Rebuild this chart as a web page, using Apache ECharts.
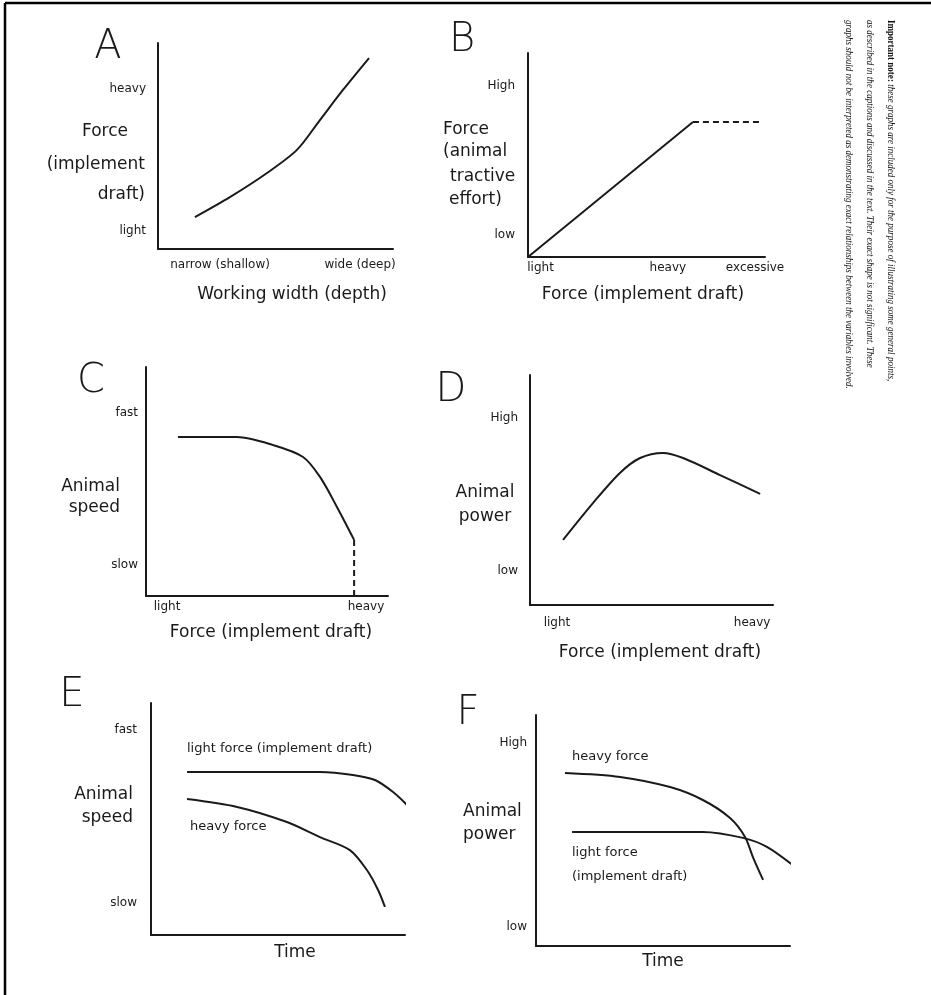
<!DOCTYPE html>
<html>
<head>
<meta charset="utf-8">
<script src="https://cdn.jsdelivr.net/npm/echarts@6/dist/echarts.min.js"></script>
<style>
    html, body { margin: 0; padding: 0; background: #fff; }
    #main { width: 931px; height: 995px; }
</style>
</head>
<body>
<div id="main"></div>
<script>
// values, every axis runs 0..100
var aCurve = [[15.7, 15.5], [30.6, 25.2], [46.4, 36.9], [59.1, 48.1], [68.9, 62.6], [78.7, 77.2], [89.8, 92.7]]
var aYTicks = [8.7, 77.7]
var aYLabels = ['light', 'heavy']
var aXTicks = [26.4, 86]
var aXLabels = ['narrow (shallow)', 'wide (deep)']

var bSolid = [[0, 0], [69.6, 66.2]]
var bDashed = [[69.6, 66.2], [98.7, 66.2]]
var bYTicks = [10.8, 83.8]
var bYLabels = ['low', 'High']
var bXTicks = [5.3, 59, 95.8]
var bXLabels = ['light', 'heavy', 'excessive']

var cCurve = [[13.2, 69.4], [37.6, 69.4], [52.5, 65.9], [64.9, 60.7], [71.9, 52.0], [78.9, 38.9], [86.0, 24.5]]
var cDrop = [[86, 24.5], [86, 0]]
var cYTicks = [13.5, 79.9]
var cYLabels = ['slow', 'fast']
var cXTicks = [8.7, 90.9]
var cXLabels = ['light', 'heavy']

var dCurve = [[13.6, 28.3], [25.9, 44.3], [37.0, 57.4], [45.3, 63.9], [54.7, 66.1], [63.0, 63.9], [78.2, 56.5], [94.7, 48.3]]
var dYTicks = [14.8, 81.3]
var dYLabels = ['low', 'High']
var dXTicks = [11.1, 91.4]
var dXLabels = ['light', 'heavy']

var eLight = [[14.2, 70.3], [66.5, 70.3], [79.5, 69.0], [88.2, 66.8], [95.3, 61.6], [101.2, 55.6]]
var eHeavy = [[14.2, 58.6], [33.9, 55.2], [53.5, 48.7], [66.5, 42.2], [78.3, 36.6], [85.0, 28.0], [89.4, 19.4], [92.1, 12.1]]
var eYTicks = [13.8, 88.4]
var eYLabels = ['slow', 'fast']

var fHeavy = [[11.4, 74.9], [33.1, 73.2], [52.8, 68.8], [65.7, 63.2], [76.4, 55.4], [82.3, 47.2], [85.4, 38.5], [89.4, 28.6]]
var fLight = [[14.2, 49.4], [65.7, 49.4], [81.5, 46.8], [90.9, 42.9], [102, 34.2]]
var fYTicks = [8.2, 87.9]
var fYLabels = ['low', 'High']

var noteLines = [
    '{b|Important note:} these graphs are included only for the purpose of illustrating some general points,',
    'as described in the captions and discussed in the text. Their exact shape is not significant. These',
    'graphs should not be interpreted as demonstrating exact relationships between the variables involved.'
]

var FONT = 'DejaVu Sans'
var INK = '#1a1a1a'

function labelFor(ticks, labels) {
    return function (v) {
        for (var i = 0; i < ticks.length; i++) {
            if (Math.abs(ticks[i] - v) < 0.01) return labels[i]
        }
        return ''
    }
}

function makeX(idx, ticks, labels, margin) {
    return {
        type: 'value', gridIndex: idx, min: 0, max: 100,
        axisLine: { show: true, lineStyle: { color: INK, width: 2 } },
        axisTick: { show: false },
        splitLine: { show: false },
        axisLabel: {
            show: !!ticks,
            customValues: ticks || [],
            formatter: ticks ? labelFor(ticks, labels) : '',
            margin: margin, color: INK, fontSize: 12, fontFamily: FONT
        }
    }
}

function makeY(idx, ticks, labels, margin) {
    return {
        type: 'value', gridIndex: idx, min: 0, max: 100,
        axisLine: { show: true, lineStyle: { color: INK, width: 2 } },
        axisTick: { show: false },
        splitLine: { show: false },
        axisLabel: {
            customValues: ticks,
            formatter: labelFor(ticks, labels),
            margin: margin, color: INK, fontSize: 12, fontFamily: FONT
        }
    }
}

function line(idx, data, dashed, smooth) {
    return {
        type: 'line', xAxisIndex: idx, yAxisIndex: idx, data: data,
        symbol: 'none', clip: false, smooth: smooth ? 0.3 : false,
        lineStyle: { color: INK, width: 2, type: dashed ? [6, 4] : 'solid' }
    }
}

function txt(s, x, y, size, align, extra) {
    var st = {
        text: s, x: x, y: y, fill: INK,
        font: (extra && extra.weight ? extra.weight + ' ' : '') + size + 'px "' + FONT + '"',
        align: align || 'left', verticalAlign: 'middle'
    }
    return { type: 'text', style: st, silent: true }
}

window.onload = function () {
    var myChart = echarts.init(document.getElementById('main'), null, { renderer: 'canvas' })

    var graphics = [
        // frame
        { type: 'line', shape: { x1: 5, y1: 3, x2: 931, y2: 3 }, style: { stroke: '#000', lineWidth: 2.5 } },
        { type: 'line', shape: { x1: 5, y1: 3, x2: 5, y2: 995 }, style: { stroke: '#000', lineWidth: 2.5 } },
        // panel letters
        txt('A', 108, 48, 40, 'center', { weight: 300 }),
        txt('B', 462, 41, 40, 'center', { weight: 300 }),
        txt('C', 91, 382, 40, 'center', { weight: 300 }),
        txt('D', 451, 391, 40, 'center', { weight: 300 }),
        txt('E', 72, 696, 40, 'center', { weight: 300 }),
        txt('F', 468, 714, 40, 'center', { weight: 300 }),
        // y titles
        txt('Force', 128, 132, 17, 'right'),
        txt('(implement', 145, 165, 17, 'right'),
        txt('draft)', 145, 195, 17, 'right'),
        txt('Force', 443, 130, 17, 'left'),
        txt('(animal', 443, 152, 17, 'left'),
        txt('tractive', 450, 177, 17, 'left'),
        txt('effort)', 449, 200, 17, 'left'),
        txt('Animal', 120, 487, 17, 'right'),
        txt('speed', 120, 508, 17, 'right'),
        txt('Animal', 485, 493, 17, 'center'),
        txt('power', 485, 517, 17, 'center'),
        txt('Animal', 133, 795, 17, 'right'),
        txt('speed', 133, 818, 17, 'right'),
        txt('Animal', 463, 812, 17, 'left'),
        txt('power', 463, 835, 17, 'left'),
        // x titles
        txt('Working width (depth)', 292, 295, 17, 'center'),
        txt('Force (implement draft)', 643, 295, 17, 'center'),
        txt('Force (implement draft)', 271, 633, 17, 'center'),
        txt('Force (implement draft)', 660, 653, 17, 'center'),
        txt('Time', 295, 953, 17, 'center'),
        txt('Time', 663, 962, 17, 'center'),
        // curve notes
        txt('light force (implement draft)', 187, 749, 13, 'left'),
        txt('heavy force', 190, 827, 13, 'left'),
        txt('heavy force', 572, 757, 13, 'left'),
        txt('light force', 572, 853, 13, 'left'),
        txt('(implement draft)', 572, 877, 13, 'left')
    ]

    // side note, turned to read downwards
    var noteX = [891, 870, 849]
    for (var i = 0; i < noteLines.length; i++) {
        graphics.push({
            type: 'text', x: noteX[i], y: 20, rotation: -Math.PI / 2, scaleX: 0.82, silent: true,
            style: {
                text: noteLines[i], fill: '#111',
                font: 'italic 11px "Liberation Serif"',
                align: 'left', verticalAlign: 'middle',
                rich: { b: { font: 'bold 11px "Liberation Serif"', fill: '#111' } }
            }
        })
    }

    option = {
        animation: false,
        backgroundColor: '#fff',
        grid: [
            { left: 158, top: 43, width: 235, height: 206 },
            { left: 528, top: 53, width: 237, height: 204 },
            { left: 146, top: 367, width: 242, height: 229 },
            { left: 530, top: 375, width: 243, height: 230 },
            { left: 151, top: 703, width: 254, height: 232 },
            { left: 536, top: 715, width: 254, height: 231 }
        ],
        xAxis: [
            makeX(0, aXTicks, aXLabels, 10),
            makeX(1, bXTicks, bXLabels, 5),
            makeX(2, cXTicks, cXLabels, 5),
            makeX(3, dXTicks, dXLabels, 12),
            makeX(4, null, null, 8),
            makeX(5, null, null, 8)
        ],
        yAxis: [
            makeY(0, aYTicks, aYLabels, 12),
            makeY(1, bYTicks, bYLabels, 13),
            makeY(2, cYTicks, cYLabels, 8),
            makeY(3, dYTicks, dYLabels, 12),
            makeY(4, eYTicks, eYLabels, 14),
            makeY(5, fYTicks, fYLabels, 9)
        ],
        series: [
            line(0, aCurve, false, true),
            line(1, bSolid, false, false),
            line(1, bDashed, true, false),
            line(2, cCurve, false, true),
            line(2, cDrop, true, false),
            line(3, dCurve, false, true),
            line(4, eLight, false, true),
            line(4, eHeavy, false, true),
            line(5, fHeavy, false, true),
            line(5, fLight, false, true)
        ],
        graphic: graphics
    }

    myChart.setOption(option)
}
</script>
</body>
</html>
